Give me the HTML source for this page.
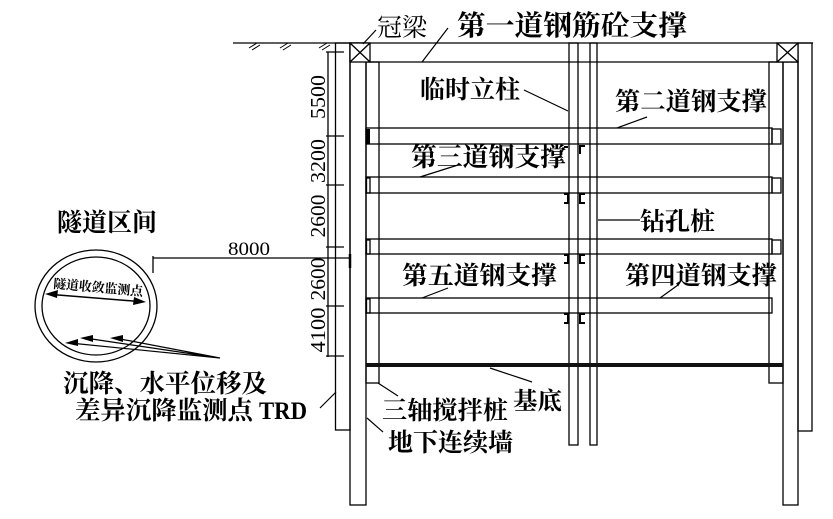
<!DOCTYPE html>
<html><head><meta charset="utf-8"><style>
html,body{margin:0;padding:0;background:#fff;}
svg{display:block;}
.c{font-family:"Liberation Serif","Noto Serif CJK SC",serif;font-weight:700;fill:#000;}
.n{font-family:"Liberation Serif",serif;fill:#000;}
</style></head><body>
<svg width="833" height="519" viewBox="0 0 833 519" xmlns="http://www.w3.org/2000/svg">
<g fill="none" stroke="#000" stroke-width="1.3">
<!-- ground -->
<line x1="233" y1="43" x2="813" y2="43"/>
<path d="M249,48 L257,43 M252,50 L260,45 M280,48 L288,43 M283,50 L291,45 M319,48 L327,43 M322,50 L330,45" stroke-width="1"/>
<!-- dimension line -->
<line x1="328" y1="52" x2="328" y2="357"/>
<path d="M326,52H344 M326,136H344 M326,185H344 M326,247H344 M326,306H344 M326,356H344"/>
<!-- left walls -->
<rect x="335.5" y="43" width="14.5" height="387"/>
<rect x="350" y="43" width="16" height="462"/>
<rect x="366" y="62" width="13" height="321"/>
<rect x="350" y="43" width="20" height="19" fill="#fff"/>
<path d="M350,43L370,62M370,43L350,62"/>
<!-- right walls -->
<rect x="769" y="62" width="14" height="321"/>
<rect x="783" y="62" width="15" height="443"/>
<rect x="798" y="43" width="14" height="388"/>
<rect x="777" y="43" width="21" height="19" fill="#fff"/>
<path d="M777,43L798,62M798,43L777,62"/>
<!-- concrete strut bottom -->
<line x1="370" y1="62" x2="777" y2="62"/>
<!-- steel struts -->
<rect x="366" y="128" width="406" height="16"/>
<rect x="366" y="177" width="406" height="16"/>
<rect x="366" y="239" width="406" height="15"/>
<rect x="366" y="298" width="406" height="15"/>
<rect x="772" y="129" width="9" height="15"/>
<rect x="772" y="178" width="9" height="15"/>
<rect x="772" y="240" width="9" height="14"/>
<rect x="366.5" y="178" width="3.5" height="15"/>
<rect x="366.5" y="240" width="3.5" height="14"/>
<rect x="366.5" y="299" width="3.5" height="14"/>
<!-- center columns -->
<rect x="569" y="43" width="9" height="402"/>
<rect x="590" y="43" width="7" height="402"/>
<!-- brackets -->
<g stroke-width="2">
<path d="M585,146H580V154"/>
<path d="M564,194H568V203H564 M585,194H580V203H585"/>
<path d="M564,255H568V263H564 M585,255H580V263H585"/>
<path d="M564,314H568V323H564 M585,314H580V323H585"/>
<path d="M564,147H568"/>
</g>
<!-- 8000 dim -->
<line x1="153" y1="258" x2="350" y2="258"/>
<line x1="153" y1="256" x2="153" y2="273"/>
<line x1="350" y1="254" x2="350" y2="268" stroke-width="2.5"/>
<!-- leaders -->
<path d="M363,44L376,30 M422,62L448,28 M524,90L568,111 M617,128L647,117 M420,177L458,165 M598,220L640,220 M422,298L448,288 M660,298L678,285 M320,408L336,392 M378,383L398,396 M490,368L532,382 M367,418L383,432" stroke-width="1.2"/>
<!-- tunnel -->
<ellipse cx="96" cy="306" rx="61" ry="56"/>
<ellipse cx="96" cy="306" rx="54" ry="49"/>
<line x1="52" y1="294.5" x2="139" y2="301.5" stroke-width="1.5"/>
<path d="M220,358L70,343 M220,358L85,338 M220,358L115,338" stroke-width="1.2"/>
</g>
<rect x="366" y="363" width="417" height="4" fill="#111"/>
<rect x="366" y="129" width="4" height="15" fill="#000"/>
<g fill="#000">
<path d="M45,294L58,290L57,298Z"/>
<path d="M146,302L133,305L134,297Z"/>
<path d="M65,343L78,339L78,346Z"/>
<path d="M80,338L93,335L93,342Z"/>
<path d="M110,338L123,335L123,342Z"/>
</g>
<!-- dimension numbers -->
<g class="n" font-size="21" text-anchor="middle">
<text transform="translate(325,97) rotate(-90)" textLength="44" lengthAdjust="spacingAndGlyphs">5500</text>
<text transform="translate(325,161) rotate(-90)" textLength="44" lengthAdjust="spacingAndGlyphs">3200</text>
<text transform="translate(325,216) rotate(-90)" textLength="43" lengthAdjust="spacingAndGlyphs">2600</text>
<text transform="translate(325,279) rotate(-90)" textLength="43" lengthAdjust="spacingAndGlyphs">2600</text>
<text transform="translate(325,330) rotate(-90)" textLength="45" lengthAdjust="spacingAndGlyphs">4100</text>
</g>
<text class="n" x="228" y="255" font-size="19" textLength="42" lengthAdjust="spacingAndGlyphs">8000</text>
<!-- labels -->
<g class="c">
<text x="377" y="36" font-size="25" font-weight="400" textLength="50" lengthAdjust="spacingAndGlyphs">冠梁</text>
<text x="457" y="35" font-size="28" textLength="230" lengthAdjust="spacingAndGlyphs">第一道钢筋砼支撑</text>
<text x="420" y="98" font-size="25" textLength="100" lengthAdjust="spacingAndGlyphs">临时立柱</text>
<text x="615" y="110" font-size="25" textLength="152" lengthAdjust="spacingAndGlyphs">第二道钢支撑</text>
<text x="411" y="166" font-size="26" textLength="155" lengthAdjust="spacingAndGlyphs">第三道钢支撑</text>
<text x="640" y="230" font-size="25" textLength="75" lengthAdjust="spacingAndGlyphs">钻孔桩</text>
<text x="402" y="284" font-size="25" textLength="155" lengthAdjust="spacingAndGlyphs">第五道钢支撑</text>
<text x="625" y="284" font-size="25" textLength="152" lengthAdjust="spacingAndGlyphs">第四道钢支撑</text>
<text x="57" y="231" font-size="25" textLength="100" lengthAdjust="spacingAndGlyphs">隧道区间</text>
<text transform="translate(53,288) rotate(5)" font-size="13" textLength="90" lengthAdjust="spacingAndGlyphs">隧道收敛监测点</text>
<text x="63" y="392" font-size="25" textLength="204" lengthAdjust="spacingAndGlyphs">沉降、水平位移及</text>
<text x="75" y="419" font-size="25" textLength="178" lengthAdjust="spacingAndGlyphs">差异沉降监测点</text>
<text x="259" y="419" font-size="25" textLength="48" lengthAdjust="spacingAndGlyphs">TRD</text>
<text x="382" y="419" font-size="25" textLength="126" lengthAdjust="spacingAndGlyphs">三轴搅拌桩</text>
<text x="513" y="409" font-size="24" textLength="49" lengthAdjust="spacingAndGlyphs">基底</text>
<text x="388" y="451" font-size="25" textLength="125" lengthAdjust="spacingAndGlyphs">地下连续墙</text>
</g>
</svg>
</body></html>
